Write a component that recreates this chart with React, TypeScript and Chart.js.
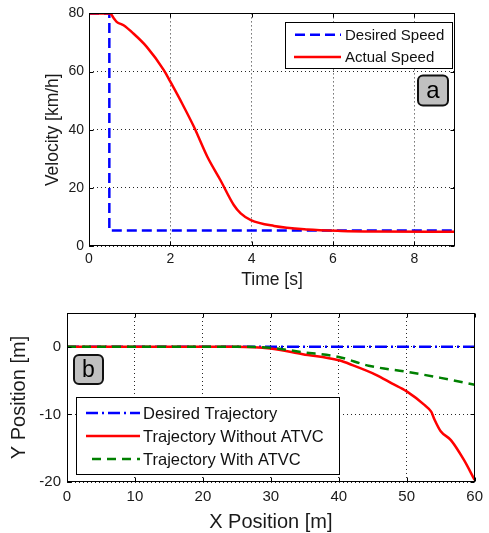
import React, { useEffect, useRef } from "react";
import { Chart, registerables } from "chart.js";

Chart.register(...registerables);

const FONT = '"Liberation Sans", Arial, Helvetica, sans-serif';

// ---- Panel (a): speed vs time ----
const timeDesired = [0, 0.5, 0.5, 9];
const speedDesired = [80, 80, 5.3, 5.3];
const timeActual = [0, 0.52, 0.6, 0.68, 0.85, 1.09, 1.42, 1.84, 2.0, 2.29, 2.58, 2.91, 3.23, 3.56, 3.73, 3.98, 4.55, 5.37, 6.2, 7.0, 9.0];
const speedActual = [80, 80, 78.5, 77.1, 75.9, 73.1, 68.5, 60.5, 56.5, 49, 41, 30.7, 22.7, 14.1, 11.2, 8.9, 6.9, 5.7, 5.2, 5.0, 4.9];
const timeTicks = [0, 2, 4, 6, 8];
const speedTicks = [0, 20, 40, 60, 80];

// ---- Panel (b): trajectory ----
const xDesired = [0, 60];
const yDesired = [0, 0];
const xWithout = [0, 25, 29.9, 34.7, 40, 42.0, 45.4, 47.8, 50.0, 52.6, 53.6, 54.1, 55.0, 56.5, 58.4, 60];
const yWithout = [0, 0, -0.25, -1.1, -2.0, -2.7, -4.1, -5.4, -6.6, -8.6, -9.6, -10.8, -12.5, -13.8, -16.7, -19.7];
const xWith = [0, 25, 29.9, 34.7, 40, 44.4, 50, 55, 60];
const yWith = [0, 0, -0.15, -0.8, -1.5, -2.8, -3.7, -4.6, -5.6];
const posXTicks = [0, 10, 20, 30, 40, 50, 60];
const posYTicks = [-20, -10, 0];

const pts = (xs: number[], ys: number[]) => xs.map((x, i) => ({ x, y: ys[i] }));

const decorPlugin = {
  id: "decor",
  afterDatasetsDraw(chart: any, _args: any, o: any) {
    const { ctx, chartArea: a } = chart;
    ctx.save();
    ctx.strokeStyle = "#000";
    ctx.lineWidth = 1;
    ctx.setLineDash([]);
    const L = Math.round(a.left) + 0.5;
    const T = Math.round(a.top) + 0.5;
    const R = Math.round(a.right) - 0.5;
    const B = Math.round(a.bottom) - 0.5;
    ctx.strokeRect(L, T, R - L, B - T);
    const xs = chart.scales.x;
    const ys = chart.scales.y;
    ctx.beginPath();
    xs.ticks.forEach((t: any) => {
      const p = Math.round(xs.getPixelForValue(t.value)) + 0.5;
      ctx.moveTo(p, B);
      ctx.lineTo(p, B - 4);
      ctx.moveTo(p, T);
      ctx.lineTo(p, T + 4);
    });
    ys.ticks.forEach((t: any) => {
      const p = Math.round(ys.getPixelForValue(t.value)) + 0.5;
      ctx.moveTo(L, p);
      ctx.lineTo(L + 4, p);
      ctx.moveTo(R, p);
      ctx.lineTo(R - 4, p);
    });
    ctx.stroke();

    const lg = o.legend;
    const bx = Math.round(a.left + lg.x) + 0.5;
    const by = Math.round(a.top + lg.y) + 0.5;
    ctx.fillStyle = "#fff";
    ctx.fillRect(bx, by, lg.w, lg.h);
    ctx.strokeStyle = "#000";
    ctx.lineWidth = 1;
    ctx.strokeRect(bx, by, lg.w, lg.h);
    lg.rows.forEach((row: any) => {
      const ds = chart.data.datasets[row.ds];
      const y = a.top + row.y;
      ctx.save();
      ctx.strokeStyle = ds.borderColor;
      ctx.lineWidth = ds.borderWidth;
      ctx.setLineDash(ds.borderDash || []);
      ctx.beginPath();
      ctx.moveTo(a.left + row.x0, y);
      ctx.lineTo(a.left + lg.lineEnd, y);
      ctx.stroke();
      ctx.restore();
      ctx.fillStyle = "#111";
      ctx.font = `${lg.fontSize}px ${FONT}`;
      ctx.textBaseline = "middle";
      ctx.textAlign = "left";
      ctx.fillText(ds.label, a.left + lg.textX, y + 1);
    });

    const tg = o.tag;
    const tx = a.left + tg.x;
    const ty = a.top + tg.y;
    ctx.beginPath();
    ctx.roundRect(tx, ty, tg.w, tg.h, 5);
    ctx.fillStyle = "#c0c0c0";
    ctx.fill();
    ctx.lineWidth = 2;
    ctx.strokeStyle = "#111";
    ctx.stroke();
    ctx.fillStyle = "#000";
    ctx.font = `${tg.fontSize}px ${FONT}`;
    ctx.textAlign = "center";
    ctx.textBaseline = "middle";
    ctx.fillText(tg.text, tx + tg.w / 2, ty + tg.h / 2 + 1);
    ctx.restore();
  },
};

function axis(
  min: number,
  max: number,
  ticks: number[],
  title: string,
  titleSize: number,
  titlePad: any,
  tickSize: number,
  tickPad: number,
  fit: (s: any) => void
) {
  return {
    type: "linear",
    min,
    max,
    afterBuildTicks: (s: any) => {
      s.ticks = ticks.map((v) => ({ value: v }));
    },
    afterFit: fit,
    grid: { color: "rgba(0,0,0,0.85)", lineWidth: 1, drawTicks: false },
    border: { display: false, dash: [1, 3] },
    ticks: {
      padding: tickPad,
      color: "#1a1a1a",
      font: { family: FONT, size: tickSize },
      maxRotation: 0,
      autoSkip: false,
    },
    title: {
      display: true,
      text: title,
      color: "#1a1a1a",
      font: { family: FONT, size: titleSize, lineHeight: 1 },
      padding: titlePad,
    },
  };
}

export default function App() {
  const topRef = useRef<HTMLCanvasElement>(null);
  const botRef = useRef<HTMLCanvasElement>(null);

  useEffect(() => {
    const c1 = new Chart(topRef.current as HTMLCanvasElement, {
      type: "line",
      data: {
        datasets: [
          {
            label: "Actual Speed",
            data: pts(timeActual, speedActual),
            borderColor: "#ff0000",
            borderWidth: 2.5,
            pointRadius: 0,
            cubicInterpolationMode: "monotone",
            order: 1,
          },
          {
            label: "Desired Speed",
            data: pts(timeDesired, speedDesired),
            borderColor: "#0000ff",
            borderWidth: 2.5,
            borderDash: [10, 5],
            pointRadius: 0,
            tension: 0,
            order: 2,
          },
        ],
      } as any,
      options: {
        responsive: false,
        animation: false,
        devicePixelRatio: 1,
        layout: { padding: { top: 13, right: 34, left: 0, bottom: 0 } },
        scales: {
          x: axis(0, 9, timeTicks, "Time [s]", 17.5, { top: 0, bottom: 1 }, 14, 5, (s: any) => {
            s.height = 44;
          }),
          y: axis(0, 80, speedTicks, "Velocity [km/h]", 17.5, { top: 44, bottom: 0 }, 14, 5, (s: any) => {
            s.width = 89;
          }),
        },
        plugins: {
          legend: { display: false },
          tooltip: { enabled: false },
          decor: {
            legend: {
              x: 196,
              y: 8.5,
              w: 167,
              h: 46,
              lineEnd: 252,
              textX: 256,
              fontSize: 15,
              rows: [
                { ds: 1, y: 21.3, x0: 206 },
                { ds: 0, y: 43.7, x0: 205 },
              ],
            },
            tag: { x: 329, y: 62, w: 30, h: 30, text: "a", fontSize: 24 },
          },
        },
      } as any,
      plugins: [decorPlugin],
    });

    const c2 = new Chart(botRef.current as HTMLCanvasElement, {
      type: "line",
      data: {
        datasets: [
          {
            label: "Desired Trajectory",
            data: pts(xDesired, yDesired),
            borderColor: "#0000ff",
            borderWidth: 2.5,
            borderDash: [12, 4, 2, 4],
            pointRadius: 0,
            tension: 0,
            order: 3,
          },
          {
            label: "Trajectory Without ATVC",
            data: pts(xWithout, yWithout),
            borderColor: "#ff0000",
            borderWidth: 2.5,
            pointRadius: 0,
            cubicInterpolationMode: "monotone",
            order: 2,
          },
          {
            label: "Trajectory With ATVC",
            data: pts(xWith, yWith),
            borderColor: "#008000",
            borderWidth: 2.5,
            borderDash: [9, 6],
            pointRadius: 0,
            cubicInterpolationMode: "monotone",
            order: 1,
          },
        ],
      } as any,
      options: {
        responsive: false,
        animation: false,
        devicePixelRatio: 1,
        layout: { padding: { top: 23, right: 8, left: 0, bottom: 0 } },
        scales: {
          x: axis(0, 60, posXTicks, "X Position [m]", 20, { top: 0, bottom: 1 }, 15, 6, (s: any) => {
            s.height = 51;
          }),
          y: axis(-20, 5, posYTicks, "Y Position [m]", 20, { top: 9, bottom: 0 }, 15, 6, (s: any) => {
            s.width = 67;
          }),
        },
        plugins: {
          legend: { display: false },
          tooltip: { enabled: false },
          decor: {
            legend: {
              x: 9,
              y: 84,
              w: 263,
              h: 77,
              lineEnd: 73,
              textX: 76,
              fontSize: 16.5,
              rows: [
                { ds: 0, y: 100, x0: 19 },
                { ds: 1, y: 123, x0: 19 },
                { ds: 2, y: 146, x0: 25 },
              ],
            },
            tag: { x: 7, y: 42, w: 29, h: 29, text: "b", fontSize: 23 },
          },
        },
      } as any,
      plugins: [decorPlugin],
    });

    return () => {
      c1.destroy();
      c2.destroy();
    };
  }, []);

  return (
    <div style={{ position: "absolute", left: 0, top: 0, width: 489, height: 533, background: "#fff" }}>
      <canvas ref={topRef} width={489} height={290} style={{ display: "block", width: 489, height: 290 }} />
      <canvas ref={botRef} width={489} height={243} style={{ display: "block", width: 489, height: 243 }} />
    </div>
  );
}
